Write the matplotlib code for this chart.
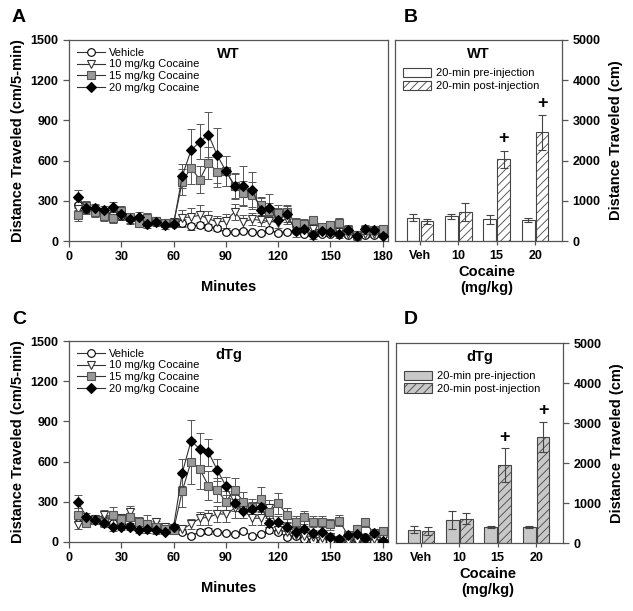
import numpy as np
import matplotlib
matplotlib.use('Agg')
import matplotlib.pyplot as plt
from matplotlib.patches import Patch

plt.rcParams['font.family'] = ['Liberation Sans', 'DejaVu Sans']
plt.rcParams['hatch.linewidth'] = 0.6

# time course (cm / 5-min bins)
minutes = np.arange(5, 185, 5)

veh_wt = [270, 240, 230, 215, 200, 185, 175, 165, 150, 145, 135, 130, 135, 110, 120, 105, 95, 65,
          65, 75, 65, 58, 80, 62, 68, 72, 55, 50, 50, 55, 52, 48, 40, 45, 45, 50]
c10_wt = [240, 245, 225, 210, 190, 190, 160, 160, 140, 150, 130, 140, 174, 179, 192, 167, 142, 149,
          217, 142, 162, 154, 147, 137, 167, 105, 105, 92, 80, 85, 67, 50, 42, 50, 55, 55]
c15_wt = [197, 261, 217, 184, 172, 227, 179, 137, 174, 149, 134, 134, 441, 548, 458, 585, 515, 523,
          411, 361, 341, 266, 227, 209, 217, 134, 129, 154, 105, 122, 134, 85, 42, 85, 80, 87]
c20_wt = [329, 249, 249, 229, 254, 199, 167, 179, 129, 142, 117, 125, 486, 677, 740, 794, 640, 523,
          411, 408, 383, 234, 249, 154, 202, 75, 92, 47, 72, 65, 55, 85, 35, 87, 80, 35]

veh_wt_err = [40, 35, 35, 30, 30, 30, 25, 25, 25, 25, 20, 20, 30, 25, 25, 20, 20, 15,
              15, 15, 15, 15, 15, 15, 15, 15, 15, 15, 15, 15, 15, 15, 15, 15, 15, 15]
c10_wt_err = [40, 35, 40, 35, 40, 30, 30, 30, 25, 25, 25, 25, 60, 70, 75, 60, 45, 50,
              60, 50, 45, 40, 40, 40, 40, 30, 30, 30, 25, 25, 25, 20, 20, 20, 20, 20]
c15_wt_err = [50, 40, 40, 35, 40, 35, 30, 30, 35, 30, 30, 30, 100, 120, 100, 120, 110, 110,
              90, 90, 100, 60, 55, 60, 55, 40, 35, 35, 30, 30, 35, 25, 20, 25, 25, 30]
c20_wt_err = [50, 30, 25, 30, 40, 30, 35, 35, 35, 30, 25, 20, 92, 157, 130, 169, 204, 110,
              100, 150, 130, 90, 100, 90, 60, 45, 45, 35, 35, 30, 30, 35, 30, 35, 30, 35]

veh_tg = [190, 170, 165, 160, 140, 140, 120, 110, 105, 100, 95, 90, 77, 47, 77, 82, 75, 65,
          57, 80, 47, 57, 90, 77, 40, 47, 20, 15, 7, 7, 20, 15, 20, 40, 7, 10]
c10_tg = [127, 152, 169, 202, 189, 177, 227, 152, 127, 147, 115, 102, 95, 134, 177, 184, 209, 209,
          251, 240, 177, 177, 251, 90, 77, 52, 47, 40, 27, 35, 15, 7, 7, 2, 20, 20]
c15_tg = [202, 144, 164, 152, 202, 169, 184, 147, 134, 110, 95, 90, 381, 600, 543, 421, 388, 301,
          388, 301, 264, 321, 227, 289, 202, 152, 184, 152, 152, 132, 159, 52, 95, 147, 65, 85]
c20_tg = [301, 189, 164, 144, 110, 115, 110, 90, 95, 90, 77, 115, 518, 754, 695, 670, 538, 418,
          289, 232, 247, 264, 144, 152, 115, 77, 95, 70, 72, 40, 22, 52, 60, 27, 70, 10]

veh_tg_err = [30, 25, 25, 25, 20, 20, 20, 20, 20, 20, 15, 15, 20, 15, 20, 20, 15, 15,
              15, 15, 15, 15, 20, 15, 15, 15, 10, 10, 10, 10, 10, 10, 10, 10, 10, 10]
c10_tg_err = [30, 30, 35, 40, 40, 35, 40, 30, 30, 30, 25, 25, 30, 40, 50, 55, 60, 60,
              70, 60, 50, 50, 60, 30, 30, 20, 20, 20, 15, 15, 10, 10, 10, 10, 15, 15]
c15_tg_err = [50, 30, 30, 40, 60, 40, 60, 40, 70, 50, 35, 30, 120, 170, 150, 110, 90, 80,
              90, 70, 60, 90, 60, 80, 50, 40, 50, 40, 40, 40, 40, 30, 35, 35, 30, 30]
c20_tg_err = [50, 30, 30, 25, 25, 25, 20, 20, 25, 20, 20, 20, 100, 160, 120, 100, 80, 70,
              60, 55, 50, 60, 35, 40, 30, 25, 25, 20, 20, 15, 15, 20, 15, 15, 20, 10]

# 20-min totals (cm)
doses = ['Veh', '10', '15', '20']
pre_wt = [575, 615, 540, 515]
pre_wt_err = [85, 65, 115, 45]
post_wt = [490, 725, 2035, 2700]
post_wt_err = [60, 230, 210, 430]
plus_wt = [2550, 3420]

pre_tg = [330, 565, 400, 400]
pre_tg_err = [85, 225, 20, 20]
post_tg = [290, 605, 1950, 2660]
post_tg_err = [100, 140, 415, 375]
plus_tg = [2640, 3300]

fig = plt.figure(figsize=(6.33, 6.11), dpi=100)
W, H = 633.0, 611.0


def add_ax(l, t, r, b):
    return fig.add_axes([l / W, 1 - b / H, (r - l) / W, (b - t) / H])


edge = '#555555'


def style(ax):
    for s in ax.spines.values():
        s.set_color(edge)
        s.set_linewidth(0.9)
    ax.tick_params(direction='out', length=4, width=0.9, color=edge, labelsize=9)
    for lab in ax.get_xticklabels() + ax.get_yticklabels():
        lab.set_fontweight('bold')


def time_panel(ax, series, errs, title, xlabel_y):
    specs = [('Vehicle', 'o', 'white', 'black', 5.5),
             ('10 mg/kg Cocaine', 'v', 'white', '#333333', 5.5),
             ('15 mg/kg Cocaine', 's', '#999999', '#555555', 5.5),
             ('20 mg/kg Cocaine', 'D', 'black', 'black', 5)]
    for y, e, (lab, m, fc, ec, ms) in zip(series, errs, specs):
        ax.errorbar(minutes, y, yerr=e, fmt='none', ecolor='#555555', elinewidth=0.7,
                    capsize=3, capthick=0.7, zorder=2)
        ax.plot(minutes, y, '-', color='#333333', lw=0.8, marker=m, ms=ms,
                mfc=fc, mec=ec, mew=0.8, label=lab, zorder=3)
    ax.set_xlim(0, 183)
    ax.set_ylim(0, 1500)
    ax.set_xticks(range(0, 181, 30))
    ax.set_yticks(range(0, 1501, 300))
    style(ax)
    ax.set_ylabel('Distance Traveled (cm/5-min)', fontsize=10.5, fontweight='bold', labelpad=4)
    ax.set_xlabel('Minutes', fontsize=10.5, fontweight='bold', labelpad=xlabel_y)
    ax.legend(loc='upper left', frameon=False, fontsize=8, handlelength=2.5,
              handletextpad=0.4, labelspacing=0.15, borderaxespad=0.3,
              bbox_to_anchor=(0.0, 1.0))
    ax.text(0.5, 0.93, title, transform=ax.transAxes, fontsize=10.5, fontweight='bold',
            ha='center', va='center')


def bar_panel(ax, pre, pre_err, post, post_err, plus, title, pre_color, post_color):
    x = np.arange(len(doses))
    w = 0.33
    ax.bar(x - 0.18, pre, w, yerr=pre_err, color=pre_color, edgecolor='#444444', lw=0.8,
           error_kw=dict(ecolor='#444444', elinewidth=0.8, capsize=3, capthick=0.8))
    ax.bar(x + 0.18, post, w, yerr=post_err, color=post_color, edgecolor='#444444', lw=0.8,
           hatch='////',
           error_kw=dict(ecolor='#444444', elinewidth=0.8, capsize=3, capthick=0.8))
    for xi, p in zip(x[2:], plus):
        ax.text(xi + 0.18, p, '+', fontsize=13, fontweight='bold', ha='center', va='center')
    ax.set_xlim(-0.65, 3.7)
    ax.set_ylim(0, 5000)
    ax.set_xticks(x)
    ax.set_xticklabels(doses)
    ax.set_yticks(range(0, 5001, 1000))
    ax.yaxis.tick_right()
    ax.yaxis.set_label_position('right')
    style(ax)
    ax.tick_params(axis='x', length=3)
    ax.set_ylabel('Distance Traveled (cm)', fontsize=10.5, fontweight='bold', labelpad=6)
    ax.set_xlabel('Cocaine\n(mg/kg)', fontsize=10.5, fontweight='bold', labelpad=3)
    ax.xaxis.set_label_coords(0.55, -0.12, transform=ax.transAxes)
    ax.xaxis.label.set_va('top')
    handles = [Patch(facecolor=pre_color, edgecolor='#444444', lw=0.8),
               Patch(facecolor=post_color, edgecolor='#444444', lw=0.8, hatch='////')]
    ax.legend(handles, ['20-min pre-injection', '20-min post-injection'], loc='upper left',
              bbox_to_anchor=(0.0, 0.9), frameon=False, fontsize=8, handlelength=2.5,
              handleheight=0.9, handletextpad=0.5, labelspacing=0.2, borderaxespad=0.3)
    ax.text(0.5, 0.93, title, transform=ax.transAxes, fontsize=10.5, fontweight='bold',
            ha='center', va='center')


axA = add_ax(69, 40, 388, 241)
time_panel(axA, [veh_wt, c10_wt, c15_wt, c20_wt],
           [veh_wt_err, c10_wt_err, c15_wt_err, c20_wt_err], 'WT', 12)
axC = add_ax(69, 341, 388, 542)
time_panel(axC, [veh_tg, c10_tg, c15_tg, c20_tg],
           [veh_tg_err, c10_tg_err, c15_tg_err, c20_tg_err], 'dTg', 12)

axB = add_ax(395, 40, 562, 241)
bar_panel(axB, pre_wt, pre_wt_err, post_wt, post_wt_err, plus_wt, 'WT', 'white', 'white')
axD = add_ax(396, 343, 563, 543)
bar_panel(axD, pre_tg, pre_tg_err, post_tg, post_tg_err, plus_tg, 'dTg', '#c8c8c8', '#c8c8c8')

for lab, (px, py) in zip('ABCD', [(12, 17), (404, 17), (12, 320), (404, 320)]):
    fig.text(px / W, 1 - py / H, lab, fontsize=14, fontweight='bold', ha='left', va='center')

fig.savefig('out.png', dpi=100)
